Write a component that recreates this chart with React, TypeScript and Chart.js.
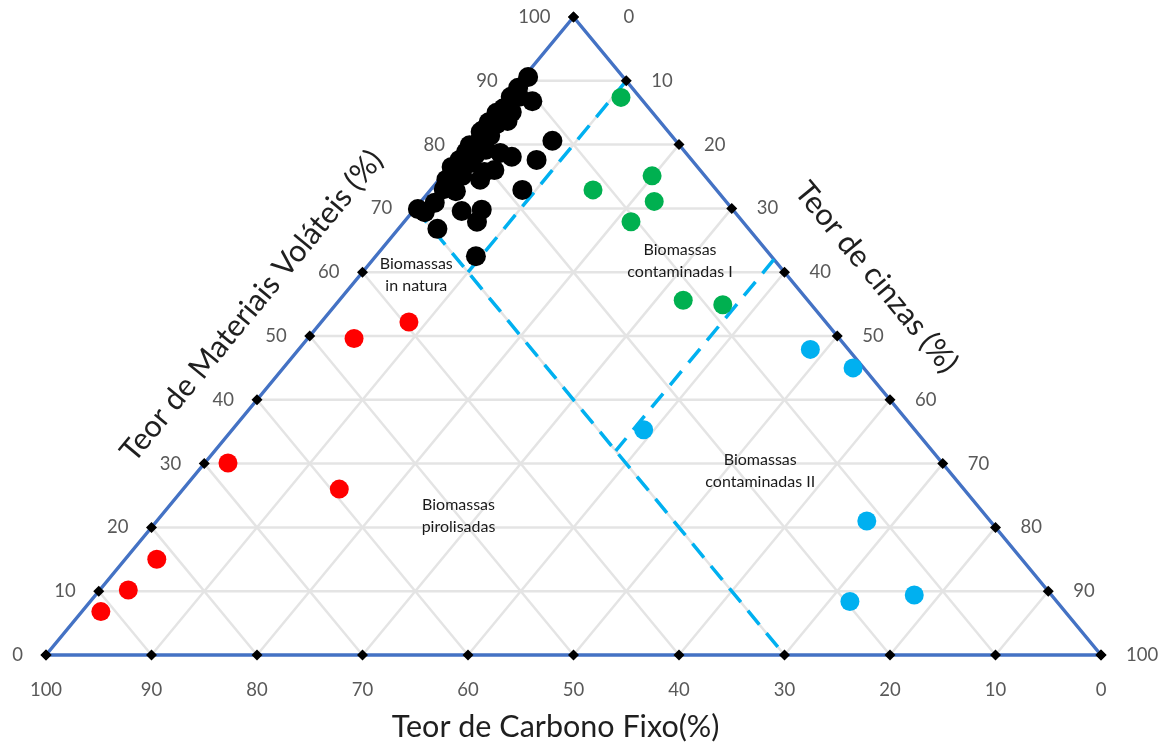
import React, { useEffect, useRef } from "react";
import { Chart, registerables } from "chart.js";

Chart.register(...registerables);

// Tick values shared by the three sides of the triangle
const ticks = [0, 10, 20, 30, 40, 50, 60, 70, 80, 90, 100];
const volatileTickLabels = ["0", "10", "20", "30", "40", "50", "60", "70", "80", "90", "100"];
const ashTickLabels = ["0", "10", "20", "30", "40", "50", "60", "70", "80", "90", "100"];
const carbonTickLabels = ["0", "10", "20", "30", "40", "50", "60", "70", "80", "90", "100"];

// Biomassas in natura (volatile %, ash %)
const naturaVolatile = [
  90.6, 86.8, 88.9, 87.5, 87.5, 85.7, 85.1, 83.7, 85.0, 83.2, 83.5, 82.3, 81.4, 82.0,
  80.4, 79.9, 78.8, 78.4, 79.2, 78.7, 78.1, 80.6, 77.6, 77.6, 76.5, 77.1, 75.7, 76.0,
  75.1, 74.5, 74.5, 73.0, 72.7, 72.9, 70.9, 69.4, 69.9, 69.6, 69.8, 67.9, 66.8, 62.5,
];
const naturaAsh = [
  0.4, 2.7, 0.3, 0.3, 1.1, 0.5, 1.6, 1.9, 0.2, 1.1, 0.2, 0.3, 1.4, 0.2,
  0.8, 0.2, 0.4, 1.5, 2.1, 3.7, 5.1, 7.7, 7.7, 0.4, 0.2, 1.7, 3.7, 4.5,
  1.9, 0.7, 3.9, 1.2, 2.5, 8.7, 1.4, 1.2, 0.3, 4.6, 6.4, 6.9, 3.7, 9.5,
];

// Biomassas pirolisadas
const pyrolyzedVolatile = [52.2, 49.6, 30.1, 26.0, 15.0, 10.2, 6.8];
const pyrolyzedAsh = [8.3, 4.4, 2.2, 14.8, 3.0, 2.7, 1.8];

// Biomassas contaminadas I
const contaminatedIVolatile = [87.4, 72.9, 75.1, 71.1, 67.9, 55.6, 54.9];
const contaminatedIAsh = [10.8, 15.4, 19.9, 22.1, 21.5, 32.6, 36.7];

// Biomassas contaminadas II
const contaminatedIIVolatile = [47.9, 45.0, 35.3, 21.0, 8.4, 9.4];
const contaminatedIIAsh = [48.5, 54.0, 39.0, 67.3, 72.0, 77.6];

// Region boundaries: [volatile, ash] end points
const boundaryCarbon30: [number, number][] = [[70, 0], [0, 70]];
const boundaryAsh10: [number, number][] = [[90, 10], [60, 10]];
const boundaryAsh38: [number, number][] = [[62, 38], [32, 38]];

// Region captions: [volatile, ash] anchor, two lines
const regionNames = [
  { at: [59.6, 5.3], lines: ["Biomassas", "in natura"] },
  { at: [61.8, 29.2], lines: ["Biomassas", "contaminadas I"] },
  { at: [28.8, 53.3], lines: ["Biomassas", "contaminadas II"] },
  { at: [21.8, 28.2], lines: ["Biomassas", "pirolisadas"] },
];

const EDGE_ANGLE = Math.atan2(638, 527);

// ternary (volatile, ash) -> cartesian chart values
const toXY = (v: number, a: number) => ({ x: a + v / 2, y: v });
const series = (vs: number[], as: number[]) => vs.map((v, i) => toXY(v, as[i]));
const segment = (pts: [number, number][]) => pts.map(([v, a]) => toXY(v, a));

const tickMarks = [
  ...ticks.map((t) => toXY(t, 0)),
  ...ticks.map((t) => toXY(100 - t, t)),
  ...ticks.map((t) => toXY(0, 100 - t)),
];

const frame = {
  id: "ternaryFrame",
  beforeDatasetsDraw(chart: any) {
    const { ctx, scales } = chart;
    const px = (p: { x: number; y: number }) => [scales.x.getPixelForValue(p.x), scales.y.getPixelForValue(p.y)];
    const line = (a: { x: number; y: number }, b: { x: number; y: number }) => {
      const [x1, y1] = px(a);
      const [x2, y2] = px(b);
      ctx.beginPath();
      ctx.moveTo(x1, y1);
      ctx.lineTo(x2, y2);
      ctx.stroke();
    };
    ctx.save();
    ctx.strokeStyle = "#e4e4e4";
    ctx.lineWidth = 2.5;
    ticks.slice(1, -1).forEach((k) => {
      line(toXY(k, 0), toXY(k, 100 - k)); // constant volatile
      line(toXY(0, k), toXY(100 - k, k)); // constant ash
      line(toXY(0, 100 - k), toXY(100 - k, 0)); // constant carbon
    });
    ctx.strokeStyle = "#4472c4";
    ctx.lineWidth = 3.5;
    ctx.lineJoin = "round";
    const corners = [toXY(0, 0), toXY(100, 0), toXY(0, 100)].map(px);
    ctx.beginPath();
    ctx.moveTo(corners[0][0], corners[0][1]);
    ctx.lineTo(corners[1][0], corners[1][1]);
    ctx.lineTo(corners[2][0], corners[2][1]);
    ctx.closePath();
    ctx.stroke();
    ctx.restore();
  },
};

const captions = {
  id: "ternaryCaptions",
  afterDatasetsDraw(chart: any) {
    const { ctx, scales } = chart;
    const px = (p: { x: number; y: number }) => [scales.x.getPixelForValue(p.x), scales.y.getPixelForValue(p.y)];
    ctx.save();
    ctx.font = "18.5px Lato";
    ctx.fillStyle = "#595959";
    ctx.textBaseline = "middle";
    ticks.forEach((t, i) => {
      const [lx, ly] = px(toXY(t, 0));
      ctx.textAlign = "right";
      ctx.fillText(volatileTickLabels[i], lx - 23, ly);
      const [rx, ry] = px(toXY(100 - t, t));
      ctx.textAlign = "left";
      ctx.fillText(ashTickLabels[i], rx + (t === 0 ? 50 : 25), ry);
      const [bx, by] = px(toXY(0, 100 - t));
      ctx.textAlign = "center";
      ctx.fillText(carbonTickLabels[i], bx, by + 35);
    });

    ctx.fillStyle = "#1f1f1f";
    ctx.font = "30.5px Lato";
    ctx.textAlign = "center";
    const [tx, ty] = px({ x: 48.3, y: -11.3 });
    ctx.fillText("Teor de Carbono Fixo(%)", tx, ty);

    const [lx, ly] = px({ x: 19.5, y: 54.7 });
    ctx.save();
    ctx.translate(lx, ly);
    ctx.rotate(-EDGE_ANGLE);
    ctx.fillText("Teor de Materiais Voláteis (%)", 0, 0);
    ctx.restore();

    const [rx, ry] = px({ x: 78.7, y: 59.2 });
    ctx.save();
    ctx.translate(rx, ry);
    ctx.rotate(EDGE_ANGLE);
    ctx.fillText("Teor de cinzas (%)", 0, 0);
    ctx.restore();

    ctx.fillStyle = "#1a1a1a";
    ctx.font = "16px Lato";
    regionNames.forEach((r) => {
      const [cx, cy] = px(toXY(r.at[0], r.at[1]));
      ctx.fillText(r.lines[0], cx, cy - 11);
      ctx.fillText(r.lines[1], cx, cy + 11);
    });
    ctx.restore();
  },
};

const dashed = (pts: [number, number][]) => ({
  type: "line" as const,
  data: segment(pts),
  borderColor: "#00b0f0",
  borderWidth: 3.5,
  borderDash: [18, 11],
  pointRadius: 0,
  showLine: true,
  fill: false,
  clip: false as const,
  order: 5,
});

const dots = (data: { x: number; y: number }[], color: string, r: number, order: number) => ({
  data,
  backgroundColor: color,
  borderColor: color,
  borderWidth: 0,
  pointRadius: r,
  pointHoverRadius: r,
  clip: false as const,
  order,
});

export default function App() {
  const ref = useRef<HTMLCanvasElement>(null);

  useEffect(() => {
    const canvas = ref.current;
    if (!canvas) return;
    const chart = new Chart(canvas, {
      type: "scatter",
      data: {
        datasets: [
          dashed(boundaryCarbon30),
          dashed(boundaryAsh10),
          dashed(boundaryAsh38),
          {
            data: tickMarks,
            pointStyle: "rectRot",
            backgroundColor: "#000",
            borderColor: "#000",
            borderWidth: 0,
            pointRadius: 5.5,
            clip: false,
            order: 4,
          },
          dots(series(pyrolyzedVolatile, pyrolyzedAsh), "#ff0000", 9.5, 3),
          dots(series(contaminatedIVolatile, contaminatedIAsh), "#00b050", 9.5, 3),
          dots(series(contaminatedIIVolatile, contaminatedIIAsh), "#00b0f0", 9.5, 3),
          dots(series(naturaVolatile, naturaAsh), "#000000", 10, 2),
        ] as any,
      },
      options: {
        responsive: false,
        animation: false,
        devicePixelRatio: 1,
        layout: { padding: { left: 46, right: 69, top: 17, bottom: 87 } },
        scales: {
          x: { type: "linear", min: 0, max: 100, display: false },
          y: { type: "linear", min: 0, max: 100, display: false },
        },
        plugins: { legend: { display: false }, tooltip: { enabled: false } },
        events: [],
      },
      plugins: [frame, captions],
    });
    return () => chart.destroy();
  }, []);

  return (
    <div style={{ position: "fixed", left: 0, top: 0, width: 1170, height: 742, background: "#fff" }}>
      <canvas ref={ref} width={1170} height={742} style={{ width: 1170, height: 742, display: "block" }} />
    </div>
  );
}
